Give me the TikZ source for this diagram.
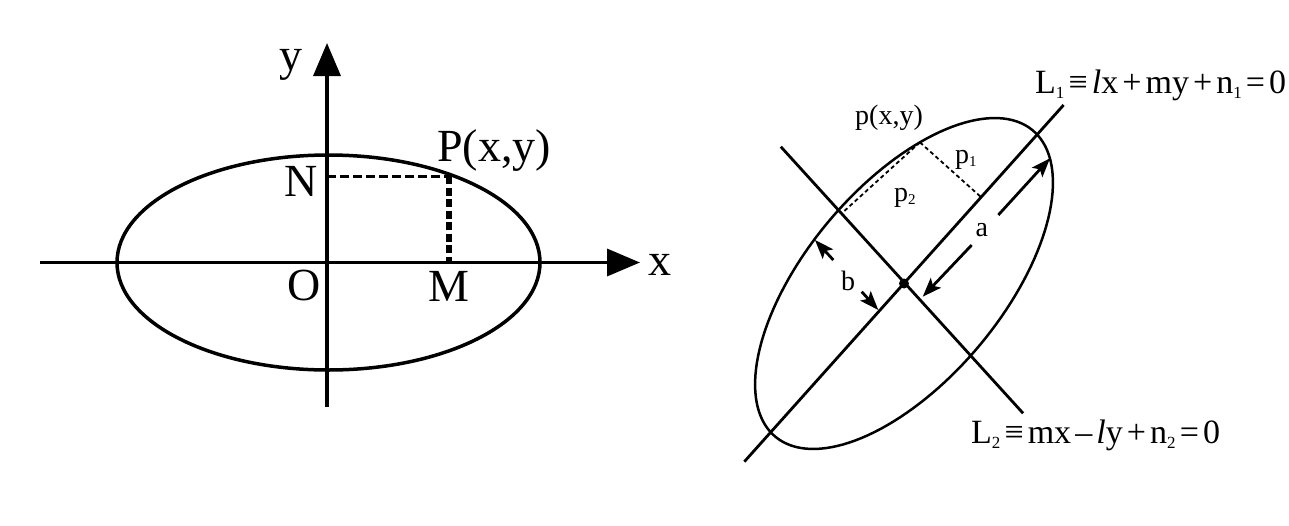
\documentclass[tikz,border=0pt]{standalone}
\usepackage{fontspec}
\setmainfont{Liberation Serif}
\usetikzlibrary{arrows.meta,calc}
\newcommand{\eqsub}[1]{\raisebox{-5pt}{\fontsize{17}{17}\selectfont #1}}
\newcommand{\psub}[1]{\raisebox{-3pt}{\fontsize{15}{15}\selectfont #1}}
\newcommand{\gp}{\hspace{0.12em}}
\begin{document}
\begin{tikzpicture}[x=1pt,y=-1pt,
  axisline/.style={line width=3.5pt},
  bigtip/.style={-{Triangle[length=33pt,width=27pt]}},
  lbig/.style={inner sep=0pt,font=\fontsize{46}{46}\selectfont},
  lsmall/.style={inner sep=0pt,font=\fontsize{28}{28}\selectfont},
  leq/.style={inner sep=0pt,font=\fontsize{34}{34}\selectfont},
  thinline/.style={line width=2.8pt},
  dimarrow/.style={line width=2.8pt,-{Stealth[length=19pt,width=14pt,inset=4pt]}},
  finedash/.style={line width=1.8pt,dash pattern=on 4pt off 3pt},
]
\useasboundingbox (0,0) rectangle (1289,525);
\fill[white] (0,0) rectangle (1289,525);

% ---------- left figure ----------
\coordinate (O) at (327,262.5);
\coordinate (xs) at (40,262.5);
\coordinate (xe) at (640,262.5);
\coordinate (ys) at (327,407);
\coordinate (ye) at (327,43);
\coordinate (P) at (449,176);
\coordinate (N) at (327,176);
\coordinate (M) at (449,262.5);
\draw[line width=3.5pt] (328.5,262.5) ellipse[x radius=211.5pt, y radius=107.5pt];
\draw[axisline,bigtip] (xs) -- (xe);
\draw[axisline,bigtip] (ys) -- (ye);
\draw[line width=3pt,dash pattern=on 9pt off 4pt] (N) -- (P);
\draw[line width=6pt,dash pattern=on 8pt off 3.5pt] (P) -- (M);

\node[lbig,anchor=base] (ylab) at (291,70) {y};
\node[lbig,anchor=base] (xlab) at (660,275) {x};
\node[lbig,anchor=base east] (Nlab) at (318,196.7) {N};
\node[lbig,anchor=base] (Olab) at (304,300) {O};
\node[lbig,anchor=base] (Mlab) at (449,301.7) {M};
\node[lbig,anchor=base west] (Plab) at (437,161.7) {P(x,y)};

% ---------- right figure ----------
\coordinate (c) at (904,283.5);
\coordinate (L1a) at (744.3,461.7);
\coordinate (L1b) at (1063.6,105);
\coordinate (L2a) at (780.8,146.7);
\coordinate (L2b) at (1023.1,413.3);
\draw[line width=2.5pt] plot[domain=0:360,samples=145,variable=\t]
  ({904+134*cos(\t)-65*sin(\t)},{283.5-148*cos(\t)-74*sin(\t)}) -- cycle;
\draw[thinline] (L1a) -- (L1b);
\draw[thinline] (L2a) -- (L2b);
\coordinate (p) at ({904+134*cos(58)-65*sin(58)},{283.5-148*cos(58)-74*sin(58)});
\coordinate (f1) at ($(L1a)!(p)!(L1b)$);
\coordinate (f2) at ($(L2a)!(p)!(L2b)$);
\draw[finedash] (p) -- (f1);
\draw[finedash] (p) -- (f2);
\fill (c) circle[radius=5pt];

\coordinate (a1s) at (998.3,215);
\coordinate (a1e) at (1050,158.3);
\coordinate (a2s) at (971.7,245);
\coordinate (a2e) at (922.7,296.7);
\coordinate (b1s) at (833.3,260);
\coordinate (b1e) at (815,240);
\coordinate (b2s) at (861.7,291.7);
\coordinate (b2e) at (878.3,310);
\draw[dimarrow] (a1s) -- (a1e);
\draw[dimarrow] (a2s) -- (a2e);
\draw[dimarrow] (b1s) -- (b1e);
\draw[dimarrow] (b2s) -- (b2e);

\node[lsmall,anchor=base west] (plab) at (855,124) {p(x,y)};
\node[lsmall,anchor=base west] (p1lab) at (955,163) {p\psub{1}};
\node[lsmall,anchor=base west] (p2lab) at (894,201.5) {p\psub{2}};
\node[lsmall,anchor=base] (alab) at (981.7,236.7) {a};
\node[lsmall,anchor=base] (blab) at (848,290) {b};
\node[leq,anchor=base west] (L1lab) at (1035,93.3)
  {L\eqsub{1}\gp≡\gp\textit{l}x\gp+\gp my\gp+\gp n\eqsub{1}\gp=\gp 0};
\node[leq,anchor=base west] (L2lab) at (971,443.3)
  {L\eqsub{2}\gp≡\gp mx\gp–\gp\textit{l}y\gp+\gp n\eqsub{2}\gp=\gp 0};
\end{tikzpicture}
\end{document}
